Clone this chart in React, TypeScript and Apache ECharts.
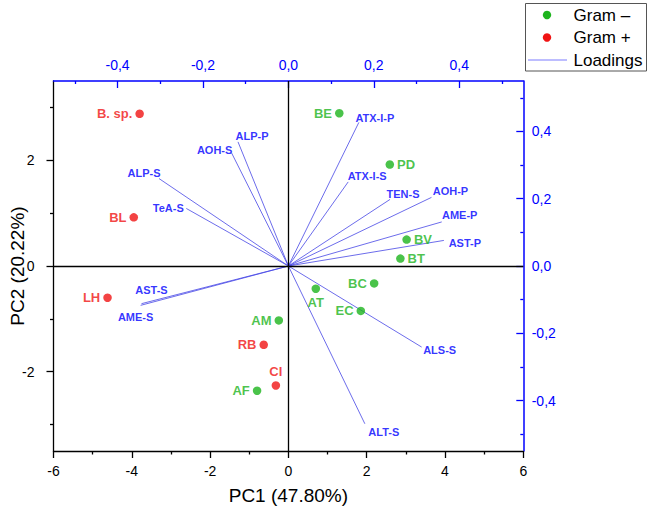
import React, { useEffect, useRef } from "react";
import * as echarts from "echarts";

// ---- Data ----
const gramNegNames = ["BE", "PD", "BV", "BT", "BC", "AT", "EC", "AM", "AF"];
const gramNegPC1 = [1.3, 2.59, 3.02, 2.86, 2.19, 0.7, 1.85, -0.245, -0.8];
const gramNegPC2 = [2.89, 1.92, 0.5, 0.14, -0.33, -0.43, -0.85, -1.03, -2.36];

const gramPosNames = ["B. sp.", "BL", "LH", "RB", "CI"];
const gramPosPC1 = [-3.8, -3.95, -4.62, -0.63, -0.32];
const gramPosPC2 = [2.88, 0.92, -0.6, -1.49, -2.26];

const loadingNames = [
  "ALP-P", "AOH-S", "ALP-S", "TeA-S", "AST-S", "AME-S", "ATX-I-P",
  "ATX-I-S", "TEN-S", "AOH-P", "AME-P", "AST-P", "ALS-S", "ALT-S",
];
const loadingPC1 = [
  -0.118, -0.133, -0.303, -0.239, -0.344, -0.346, 0.165,
  0.14, 0.238, 0.335, 0.359, 0.364, 0.312, 0.179,
];
const loadingPC2 = [
  0.369, 0.336, 0.26, 0.171, -0.112, -0.117, 0.427,
  0.25, 0.198, 0.204, 0.131, 0.076, -0.241, -0.469,
];

const pc1Ticks = [-6, -4, -2, 0, 2, 4, 6];
const pc2Labels = [-2, 0, 2];
const pc2Minor = [-3, -1, 1, 3];
const loadLabels = [-0.4, -0.2, 0, 0.2, 0.4];
const loadMinor = [-0.5, -0.3, -0.1, 0.1, 0.3, 0.5];

const legendNames = ["Gram \u2013", "Gram +", "Loadings"];

// ---- Styling / label placement ----
const GREEN = "#1db41d";
const RED = "#f01414";
const BLUE = "#0000ff";
const LINE_BLUE = "#4646e6";
const LEGEND_LINE = "#7c7cff";
const FONT = 'Arial, "Liberation Sans", sans-serif';

const pointLabelSide: Record<string, string> = {
  BE: "left", PD: "right", BV: "right", BT: "right", BC: "left", AT: "bottom",
  EC: "left", AM: "left", AF: "left",
  "B. sp.": "left", BL: "left", LH: "left", RB: "left", CI: "top",
};
const loadingLabelOffset: Record<string, number[]> = {
  "ALP-P": [14, -6], "AOH-S": [-17, -3], "ALP-S": [-15, -6], "TeA-S": [-18, 0],
  "AST-S": [10, -14], "AME-S": [-5, 12], "ATX-I-P": [16, -4], "ATX-I-S": [19, -6],
  "TEN-S": [13, -5], "AOH-P": [19, -6], "AME-P": [18, -7], "AST-P": [21, 3],
  "ALS-S": [18, 3], "ALT-S": [19, 8],
};

const fmtComma = (v: number) => (Math.abs(v) < 1e-9 ? "0,0" : v.toFixed(1).replace(".", ","));

function scoreData(names: string[], xs: number[], ys: number[]) {
  return names.map((n, i) => ({
    name: n,
    value: [xs[i], ys[i]],
    label: { position: pointLabelSide[n] || "left", distance: 3 },
  }));
}

function legendGraphic() {
  const x0 = 525, y0 = 3;
  const rows = [15, 37.5, 60];
  const els: any[] = [
    {
      type: "rect",
      z: 10,
      shape: { x: x0 + 0.5, y: y0 + 0.5, width: 121, height: 67.5 },
      style: { fill: "#ffffff", stroke: "#555555", lineWidth: 1 },
    },
    { type: "circle", z: 11, shape: { cx: 547, cy: rows[0], r: 4.2 }, style: { fill: GREEN } },
    { type: "circle", z: 11, shape: { cx: 547, cy: rows[1], r: 4.2 }, style: { fill: RED } },
    {
      type: "line",
      z: 11,
      shape: { x1: 528, y1: rows[2], x2: 567, y2: rows[2] },
      style: { stroke: LEGEND_LINE, lineWidth: 1.2 },
    },
  ];
  legendNames.forEach((t, i) => {
    els.push({
      type: "text",
      z: 11,
      x: 573.5,
      y: rows[i],
      style: {
        text: t,
        fill: "#000",
        font: `17px ${FONT}`,
        textAlign: "left",
        textVerticalAlign: "middle",
      },
    });
  });
  return els;
}

export default function App() {
  const ref = useRef<HTMLDivElement>(null);
  useEffect(() => {
    document.body.style.margin = "0";
    if (!ref.current) return;
    const chart = echarts.init(ref.current, null, { renderer: "svg" });

    const pointLabel = (color: string) => ({
      show: true,
      formatter: "{b}",
      color,
      fontSize: 13,
      fontWeight: "bold",
      fontFamily: FONT,
    });

    chart.setOption({
      animation: false,
      backgroundColor: "#ffffff",
      textStyle: { fontFamily: FONT },
      grid: { left: 53.5, right: 125.7, top: 81, bottom: 58, containLabel: false, outerBoundsMode: "none" },
      graphic: legendGraphic(),
      xAxis: [
        {
          type: "value",
          position: "bottom",
          min: -6,
          max: 6,
          interval: 2,
          axisLine: { onZero: false, lineStyle: { color: "#000", width: 1.3 } },
          axisTick: { inside: false, length: 7, lineStyle: { color: "#000", width: 1.3 } },
          minorTick: { show: true, splitNumber: 2, length: 3.5, lineStyle: { color: "#000", width: 1.3 } },
          splitLine: { show: false },
          minorSplitLine: { show: false },
          axisLabel: {
            color: "#000", fontSize: 14, margin: 13, fontFamily: FONT,
            showMinLabel: true, showMaxLabel: true,
            customValues: pc1Ticks,
          },
          name: "PC1 (47.80%)",
          nameLocation: "middle",
          nameGap: 35,
          nameMoveOverlap: false,
          nameTextStyle: { fontSize: 19, color: "#000", fontFamily: FONT },
        },
        {
          type: "value",
          position: "top",
          min: -0.55,
          max: 0.55,
          axisLine: { onZero: false, lineStyle: { color: BLUE, width: 1.5 } },
          axisTick: { inside: true, length: 7, customValues: loadLabels, lineStyle: { color: BLUE, width: 1.3 } },
          splitLine: { show: false },
          axisLabel: {
            color: BLUE, fontSize: 14, margin: 9.5, fontFamily: FONT,
            customValues: loadLabels, formatter: fmtComma,
          },
        },
        {
          type: "value",
          position: "top",
          min: -0.55,
          max: 0.55,
          axisLine: { show: false, onZero: false },
          axisTick: { inside: true, length: 3, customValues: loadMinor, lineStyle: { color: BLUE, width: 1.3 } },
          splitLine: { show: false },
          axisLabel: { show: false },
        },
      ],
      yAxis: [
        {
          type: "value",
          position: "left",
          min: -3.5,
          max: 3.5,
          axisLine: { onZero: false, lineStyle: { color: "#000", width: 1.3 } },
          axisTick: { inside: false, length: 7, customValues: pc2Labels, lineStyle: { color: "#000", width: 1.3 } },
          splitLine: { show: false },
          axisLabel: { color: "#000", fontSize: 14, margin: 19, fontFamily: FONT, customValues: pc2Labels },
          name: "PC2 (20.22%)",
          nameLocation: "middle",
          nameGap: 27,
          nameRotate: 90,
          nameMoveOverlap: false,
          nameTextStyle: { fontSize: 19, color: "#000", fontFamily: FONT },
        },
        {
          type: "value",
          position: "left",
          min: -3.5,
          max: 3.5,
          axisLine: { show: false, onZero: false },
          axisTick: { inside: false, length: 3.5, customValues: pc2Minor, lineStyle: { color: "#000", width: 1.3 } },
          splitLine: { show: false },
          axisLabel: { show: false },
        },
        {
          type: "value",
          position: "right",
          min: -0.55,
          max: 0.55,
          axisLine: { onZero: false, lineStyle: { color: BLUE, width: 1.5 } },
          axisTick: { inside: true, length: 7, customValues: loadLabels, lineStyle: { color: BLUE, width: 1.3 } },
          splitLine: { show: false },
          axisLabel: {
            color: BLUE, fontSize: 14, margin: 8.4, fontFamily: FONT,
            customValues: loadLabels, formatter: fmtComma,
          },
        },
        {
          type: "value",
          position: "right",
          min: -0.55,
          max: 0.55,
          axisLine: { show: false, onZero: false },
          axisTick: { inside: true, length: 3, customValues: loadMinor, lineStyle: { color: BLUE, width: 1.3 } },
          splitLine: { show: false },
          axisLabel: { show: false },
        },
      ],
      series: [
        {
          name: "Loadings",
          type: "lines",
          coordinateSystem: "cartesian2d",
          xAxisIndex: 1,
          yAxisIndex: 2,
          silent: true,
          z: 1,
          lineStyle: { color: LINE_BLUE, width: 0.8, opacity: 1 },
          data: loadingNames.map((n, i) => ({
            name: n,
            coords: [[0, 0], [loadingPC1[i], loadingPC2[i]]],
          })),
        },
        {
          name: "Loading labels",
          type: "scatter",
          xAxisIndex: 1,
          yAxisIndex: 2,
          symbolSize: 1,
          silent: true,
          z: 3,
          itemStyle: { color: "rgba(0,0,0,0)" },
          label: {
            show: true,
            position: "inside",
            formatter: "{b}",
            color: BLUE,
            fontSize: 11,
            fontWeight: "bold",
            fontFamily: FONT,
          },
          data: loadingNames.map((n, i) => ({
            name: n,
            value: [loadingPC1[i], loadingPC2[i]],
            label: { offset: loadingLabelOffset[n] || [0, 0] },
          })),
        },
        {
          name: "Gram \u2013",
          type: "scatter",
          xAxisIndex: 0,
          yAxisIndex: 0,
          symbol: "circle",
          symbolSize: 8.5,
          z: 4,
          itemStyle: { color: GREEN },
          label: pointLabel(GREEN),
          data: scoreData(gramNegNames, gramNegPC1, gramNegPC2),
          markLine: {
            silent: true,
            symbol: ["none", "none"],
            label: { show: false },
            lineStyle: { color: "#000", width: 1.3, type: "solid" },
            data: [{ xAxis: 0 }, { yAxis: 0 }],
          },
        },
        {
          name: "Gram +",
          type: "scatter",
          xAxisIndex: 0,
          yAxisIndex: 0,
          symbol: "circle",
          symbolSize: 8.5,
          z: 4,
          itemStyle: { color: RED },
          label: pointLabel(RED),
          data: scoreData(gramPosNames, gramPosPC1, gramPosPC2),
        },
      ],
    });
    return () => chart.dispose();
  }, []);
  return <div ref={ref} style={{ width: 649, height: 509, position: "absolute", left: 0, top: 0 }} />;
}
